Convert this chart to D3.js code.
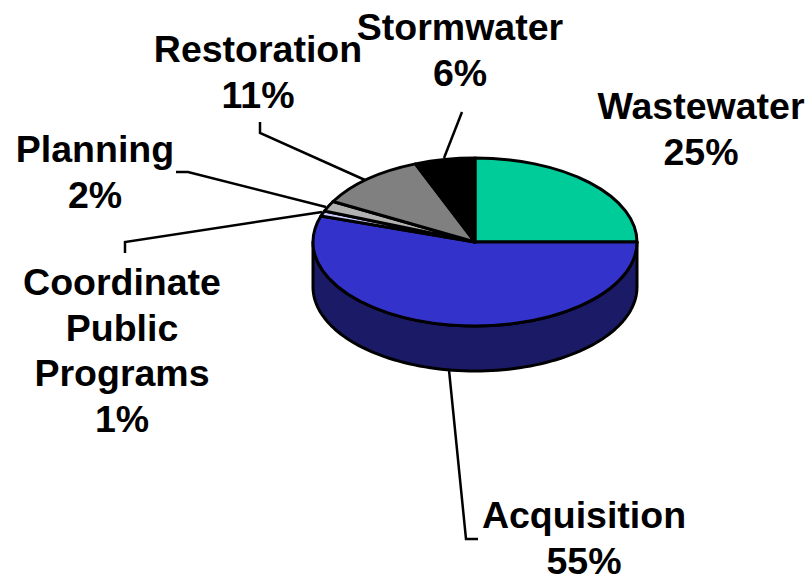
<!DOCTYPE html>
<html>
<head>
<meta charset="utf-8">
<script src="https://cdn.jsdelivr.net/npm/d3@7"></script>
<style>
    html, body { margin: 0; padding: 0; background: #fff; }
    text { font-family: "Liberation Sans", Arial, sans-serif; font-weight: bold; font-size: 37.5px; fill: #000; }
</style>
</head>
<body>
<div id="chart-area"></div>
<script>
// Data
const categories = ['Wastewater', 'Acquisition', 'Coordinate Public Programs', 'Planning', 'Restoration', 'Stormwater'];
const shares = [25, 55, 1, 2, 11, 6];
const colors = ['#00CC99', '#3333CC', '#CCCCFF', '#B2B2B2', '#808080', '#000000'];
const labelLines = [
    ['Wastewater', '25%'],
    ['Acquisition', '55%'],
    ['Coordinate', 'Public', 'Programs', '1%'],
    ['Planning', '2%'],
    ['Restoration', '11%'],
    ['Stormwater', '6%']
];

// Layout
const width = 810, height = 576;
const cx = 475, cy = 242, rx = 162, ry = 84, depth = 45;
const lineStep = 45.5;
const labelPos = [[701, 119], [584, 528], [122, 295], [95, 162], [258, 62], [460, 40]];
const leaders = [
    null,
    [[449, 370], [466, 539], [478, 539]],
    [[125, 253], [125, 242], [322, 212]],
    [[176, 172], [188, 172], [326, 207]],
    [[260, 122], [260, 133], [365, 180]],
    [[462, 112], [444, 158]]
];

const svg = d3.select('#chart-area')
    .append('svg')
    .attr('width', width)
    .attr('height', height)
    .style('display', 'block');

// Side wall of the pie, lower half of the ellipse pushed down by depth
const front = d3.range(90, 270.5, 2).map((a) => a * Math.PI / 180);
const ex = (a) => cx + rx * Math.sin(a);
const ey = (a) => cy - ry * Math.cos(a);
const side = d3.line().x((d) => d[0]).y((d) => d[1]);
const wall = front.map((a) => [ex(a), ey(a) + depth])
    .concat(front.slice().reverse().map((a) => [ex(a), ey(a)]));

svg.append('path')
    .attr('d', side(wall) + 'Z')
    .attr('fill', '#1A1A66')
    .attr('stroke', '#000')
    .attr('stroke-width', 3)
    .attr('stroke-linejoin', 'round');

// Top of the pie, a circle squashed into an ellipse
const pie = d3.pie().sort(null)(shares);
const arc = d3.arc().innerRadius(0).outerRadius(rx);

svg.append('g')
    .attr('transform', 'translate(' + cx + ', ' + cy + ') scale(1, ' + (ry / rx) + ')')
    .selectAll('path')
    .data(pie)
    .enter()
    .append('path')
        .attr('d', arc)
        .attr('fill', (d, i) => colors[i])
        .attr('stroke', '#000')
        .attr('stroke-width', 3)
        .attr('stroke-linejoin', 'round')
        .attr('vector-effect', 'non-scaling-stroke');

// Leader lines
svg.selectAll('.leader')
    .data(leaders.filter((d) => d))
    .enter()
    .append('path')
        .attr('class', 'leader')
        .attr('d', side)
        .attr('fill', 'none')
        .attr('stroke', '#000')
        .attr('stroke-width', 2.5);

// Labels
const labels = svg.selectAll('.label')
    .data(labelLines)
    .enter()
    .append('text')
        .attr('class', 'label')
        .attr('text-anchor', 'middle')
        .attr('data-category', (d, i) => categories[i])
        .attr('transform', (d, i) => 'translate(' + labelPos[i][0] + ', ' + labelPos[i][1] + ')');

labels.selectAll('tspan')
    .data((d) => d)
    .enter()
    .append('tspan')
        .attr('x', 0)
        .attr('y', (d, i) => i * lineStep)
        .text((d) => d);
</script>
</body>
</html>
